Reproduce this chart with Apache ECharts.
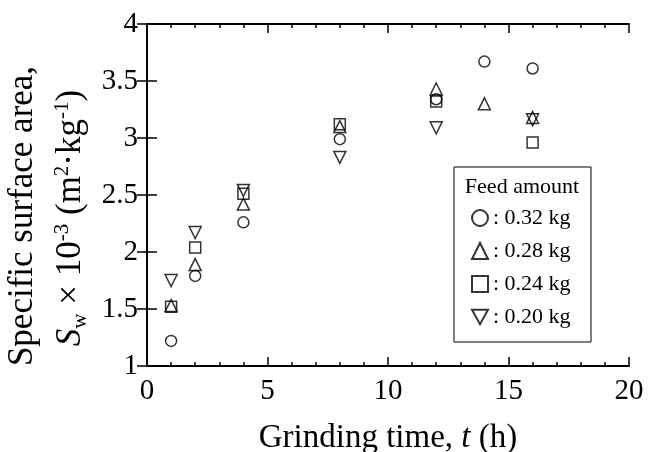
<!DOCTYPE html>
<html>
<head>
<meta charset="utf-8">
<script src="https://cdn.jsdelivr.net/npm/echarts@6/dist/echarts.min.js"></script>
<style>
  html, body { margin: 0; padding: 0; background: #fff; }
  #chart { width: 648px; height: 452px; }
</style>
</head>
<body>
<div id="chart"></div>
<script>
// data: grinding time (h) and Sw x 10^-3 (m2/kg)
const feedNames = ['0.32 kg', '0.28 kg', '0.24 kg', '0.20 kg'];

const tCircle = [1, 2, 4, 8, 12, 14, 16];
const swCircle = [1.22, 1.79, 2.26, 2.99, 3.34, 3.67, 3.61];

const tTriangle = [1, 2, 4, 8, 12, 14, 16];
const swTriangle = [1.53, 1.89, 2.42, 3.10, 3.43, 3.30, 3.18];

const tSquare = [1, 2, 4, 8, 12, 16];
const swSquare = [1.52, 2.04, 2.51, 3.12, 3.32, 2.96];

const tDown = [1, 2, 4, 8, 12, 16];
const swDown = [1.75, 2.17, 2.54, 2.83, 3.09, 3.16];

const serif = 'Liberation Serif';
const downTri = 'path://M0,0 L10,0 L5,9 Z';

function pairs(ts, vs) {
  return ts.map((t, i) => [t, vs[i]]);
}

const chart = echarts.init(document.getElementById('chart'));

const markStyle = {
  color: 'rgba(0,0,0,0)',
  borderColor: '#000',
  borderWidth: 1.5
};

function makeSeries(name, data, symbol, size) {
  return {
    name: name,
    type: 'scatter',
    data: data,
    symbol: symbol,
    symbolSize: size,
    itemStyle: markStyle,
    emphasis: { disabled: true },
    xAxisIndex: 0,
    yAxisIndex: 0
  };
}

const axisLine = { show: true, lineStyle: { color: '#000', width: 2 } };
const tick = { inside: true, length: 9, lineStyle: { color: '#000', width: 1.5 } };
const minor = { show: true, splitNumber: 5, length: 4, lineStyle: { color: '#000', width: 1.5 } };

chart.setOption({
  animation: false,
  grid: { left: 147, right: 19, top: 24, bottom: 86, containLabel: false, outerBoundsMode: 'none' },
  xAxis: [
    {
      type: 'value', min: 0, max: 20, interval: 5, position: 'bottom',
      axisLine: axisLine,
      axisTick: tick,
      minorTick: minor,
      splitLine: { show: false },
      axisLabel: { color: '#000', fontFamily: serif, fontSize: 29, margin: 11 },
      name: '{n|Grinding time, }{i|t}{n| (h)}',
      nameLocation: 'middle',
      nameGap: 56,
      nameTextStyle: {
        rich: {
          n: { fontFamily: serif, fontSize: 33, color: '#000' },
          i: { fontFamily: serif, fontSize: 33, fontStyle: 'italic', color: '#000' }
        }
      }
    },
    {
      type: 'value', min: 0, max: 20, interval: 5, position: 'top',
      axisLine: axisLine,
      axisTick: tick,
      minorTick: minor,
      splitLine: { show: false },
      axisLabel: { show: false }
    }
  ],
  yAxis: [
    {
      type: 'value', min: 1, max: 4, interval: 0.5, position: 'left',
      axisLine: axisLine,
      axisTick: { inside: true, length: 10, lineStyle: { color: '#000', width: 1.5 } },
      splitLine: { show: false },
      axisLabel: { color: '#000', fontFamily: serif, fontSize: 29, margin: 9 }
    },
    {
      type: 'value', min: 1, max: 4, interval: 0.5, position: 'right',
      axisLine: axisLine,
      axisTick: { inside: true, length: 10, lineStyle: { color: '#000', width: 1.5 } },
      splitLine: { show: false },
      axisLabel: { show: false }
    }
  ],
  legend: {
    data: feedNames,
    orient: 'vertical',
    left: 466,
    top: 202,
    itemWidth: 16,
    itemHeight: 16,
    itemGap: 11,
    formatter: ': {name}',
    textStyle: { fontFamily: serif, fontSize: 22, color: '#000' }
  },
  graphic: [
    {
      type: 'rect',
      shape: { x: 454, y: 167, width: 137, height: 175 },
      style: { fill: 'none', stroke: '#000', lineWidth: 1 }
    },
    {
      type: 'text',
      x: 522, y: 187,
      style: { text: 'Feed amount', fontFamily: serif, fontSize: 22, fill: '#000', align: 'center', verticalAlign: 'middle' }
    },
    {
      type: 'text',
      x: 23, y: 216, rotation: Math.PI / 2,
      style: { text: 'Specific surface area,', fontFamily: serif, fontSize: 35, fill: '#000', align: 'center', verticalAlign: 'middle' }
    },
    {
      type: 'text',
      x: 71, y: 218, rotation: Math.PI / 2,
      style: {
        text: '{i|S}{sub|w}{n| × 10}{sup|-3}{n| (m}{sup|2}{n|·kg}{sup|-1}{n|)}',
        align: 'center', verticalAlign: 'middle',
        rich: {
          n: { fontFamily: serif, fontSize: 35, fill: '#000' },
          i: { fontFamily: serif, fontSize: 35, fontStyle: 'italic', fill: '#000' },
          sub: { fontFamily: serif, fontSize: 21, fill: '#000', padding: [18, 0, 0, 0] },
          sup: { fontFamily: serif, fontSize: 21, fill: '#000', padding: [0, 0, 18, 0] }
        }
      }
    }
  ],
  series: [
    makeSeries(feedNames[0], pairs(tCircle, swCircle), 'circle', 11),
    makeSeries(feedNames[1], pairs(tTriangle, swTriangle), 'triangle', 12),
    makeSeries(feedNames[2], pairs(tSquare, swSquare), 'rect', 11),
    makeSeries(feedNames[3], pairs(tDown, swDown), downTri, 12)
  ]
});
</script>
</body>
</html>
